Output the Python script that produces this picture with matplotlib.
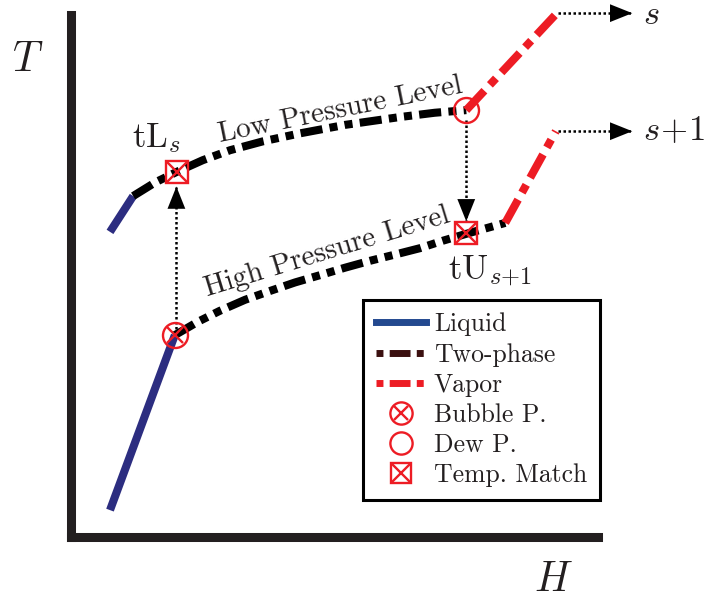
import matplotlib
matplotlib.use("Agg")
import matplotlib.pyplot as plt
from matplotlib.lines import Line2D
from matplotlib.legend_handler import HandlerTuple

plt.rcParams['font.family'] = 'cmr10'
plt.rcParams['mathtext.fontset'] = 'cm'
plt.rcParams['axes.unicode_minus'] = False

# enthalpy / temperature points of the two pressure levels (axis units 0..100)
liq_low_H = [7.4, 19.7]
liq_low_T = [5.1, 38.3]
liq_up_H = [7.4, 11.8]
liq_up_T = [57.9, 64.7]

twophase_up_H = [11.8, 16.0, 20.1, 25.0, 30.2, 36.5, 43.5, 52.0, 62.5, 69.0, 75.0]
twophase_up_T = [64.7, 67.3, 69.3, 71.5, 73.4, 75.1, 76.6, 78.2, 79.7, 80.5, 81.0]
twophase_lo_H = [19.7, 24.0, 28.2, 33.0, 37.8, 42.5, 47.3, 52.0, 56.7, 61.5, 66.2, 70.5, 74.9, 82.4]
twophase_lo_T = [38.3, 40.8, 42.9, 45.0, 46.7, 48.3, 49.7, 51.1, 52.4, 53.6, 54.8, 56.2, 57.5, 59.6]

vap_up_H = [75.0, 92.2]
vap_up_T = [81.0, 99.4]
vap_lo_H = [82.4, 92.0]
vap_lo_T = [59.6, 77.0]

bubble_H, bubble_T = 19.7, 38.3
dew_H, dew_T = 75.0, 81.0
match_H = [20.1, 74.9]
match_T = [69.3, 57.7]

red = '#ed1c24'
blue = '#2c2d80'
ink = '#231f20'

fig = plt.figure(figsize=(7.14, 6.13), dpi=100)
ax = fig.add_axes([71/714, 76/613, 527/714, 527/613])
ax.set_xlim(0, 100)
ax.set_ylim(0, 100)
ax.set_xticks([])
ax.set_yticks([])
for side in ['top', 'right']:
    ax.spines[side].set_visible(False)
for side in ['left', 'bottom']:
    ax.spines[side].set_linewidth(6.5)
    ax.spines[side].set_color(ink)
ax.spines['left'].set_bounds(0, 99)

lw = 5.8
dashdotdot = (2.75, 0.9, 1.0, 0.9, 1.0, 0.9)
dashdot = (3.3, 1.0, 1.1, 1.0)

ax.plot(liq_low_H, liq_low_T, color=blue, lw=lw, solid_capstyle='butt', clip_on=False)
ax.plot(liq_up_H, liq_up_T, color=blue, lw=lw, solid_capstyle='butt', clip_on=False)
ax.plot(twophase_up_H, twophase_up_T, color='k', lw=lw, dashes=dashdotdot, clip_on=False)
ax.plot(twophase_lo_H, twophase_lo_T, color='k', lw=lw, dashes=dashdotdot, clip_on=False)
ax.plot(vap_up_H, vap_up_T, color=red, lw=lw, dashes=dashdot, clip_on=False)
ax.plot(vap_lo_H, vap_lo_T, color=red, lw=lw, dashes=dashdot, clip_on=False)

# dotted arrows: bubble -> upper match, dew -> lower match, and stream exits
def dotted_arrow(x0, y0, x1, y1):
    ax.plot([x0, x1], [y0, y1], color='k', lw=1.8, dashes=(1, 1), clip_on=False)
    ax.annotate('', xy=(x1, y1), xytext=(x0, y0),
                arrowprops=dict(arrowstyle='-|>,head_length=0.8,head_width=0.32',
                                color='k', lw=0.01, shrinkA=0, shrinkB=0,
                                mutation_scale=20),
                annotation_clip=False)

dotted_arrow(20.0, 39.5, 20.0, 66.5)
dotted_arrow(75.0, 79.2, 75.0, 59.9)
dotted_arrow(92.4, vap_up_T[1], 106.5, vap_up_T[1])
dotted_arrow(92.4, vap_lo_T[1], 106.5, vap_lo_T[1])

ax.plot(bubble_H, bubble_T, 'o', ms=18, mfc='none', mec=red, mew=1.7, clip_on=False)
ax.plot(bubble_H, bubble_T, 'x', ms=12, mec=red, mew=1.7, clip_on=False)
ax.plot(dew_H, dew_T, 'o', ms=18, mfc='none', mec=red, mew=1.7, clip_on=False)
ax.plot(match_H, match_T, 's', ms=16, mfc='none', mec=red, mew=1.7, clip_on=False)
ax.plot(match_H, match_T, 'x', ms=15, mec=red, mew=1.7, clip_on=False)

# labels
ax.text(-8.3, 90.5, '$T$', fontsize=30, color=ink, ha='center', va='center')
ax.text(91.5, -8.3, '$H$', fontsize=30, color=ink, ha='center', va='center')
ax.text(108.5, 97.3, '$s$', fontsize=25, color=ink, ha='left', va='baseline')
ax.text(108.5, vap_lo_T[1], r'$s\!+\!1$', fontsize=25, color=ink, ha='left', va='center')
ax.text(11.6, 74.0, 'tL$_s$', fontsize=25, color=ink, ha='left', va='baseline')
ax.text(71.5, 49.1, 'tU$_{s{+}1}$', fontsize=25, color=ink, ha='left', va='baseline')
ax.text(28.3, 74.9, 'Low Pressure Level', fontsize=21, color=ink,
        ha='left', va='baseline', rotation=11.5, rotation_mode='anchor')
ax.text(25.9, 45.6, 'High Pressure Level', fontsize=21, color=ink,
        ha='left', va='baseline', rotation=17, rotation_mode='anchor')

handles = [
    Line2D([], [], color='#23498f', lw=5),
    Line2D([], [], color='#3b1010', lw=5, dashes=(1.0, 0.9, 3.0, 0.9)),
    Line2D([], [], color=red, lw=5, dashes=(1.0, 0.9, 3.0, 0.9)),
    (Line2D([], [], ls='none', marker='o', ms=16, mfc='none', mec=red, mew=1.7),
     Line2D([], [], ls='none', marker='x', ms=10, mec=red, mew=1.7)),
    Line2D([], [], ls='none', marker='o', ms=16, mfc='none', mec=red, mew=1.7),
    (Line2D([], [], ls='none', marker='s', ms=15, mfc='none', mec=red, mew=1.7),
     Line2D([], [], ls='none', marker='x', ms=14, mec=red, mew=1.7)),
]
labels = ['Liquid', 'Two-phase', 'Vapor', 'Bubble P.', 'Dew P.', 'Temp. Match']
leg = ax.legend(handles, labels, loc='lower right',
                bbox_to_anchor=(600/714, 113/613), bbox_transform=fig.transFigure,
                borderaxespad=0, fontsize=18.5, frameon=True, fancybox=False,
                framealpha=1, edgecolor='k', handlelength=1.95, handletextpad=0.3,
                labelspacing=0.25, borderpad=0.5,
                handler_map={tuple: HandlerTuple(ndivide=1, pad=0)})
leg.get_frame().set_linewidth(2.2)
for t in leg.get_texts():
    t.set_color(ink)

fig.savefig('out.png', dpi=100)
